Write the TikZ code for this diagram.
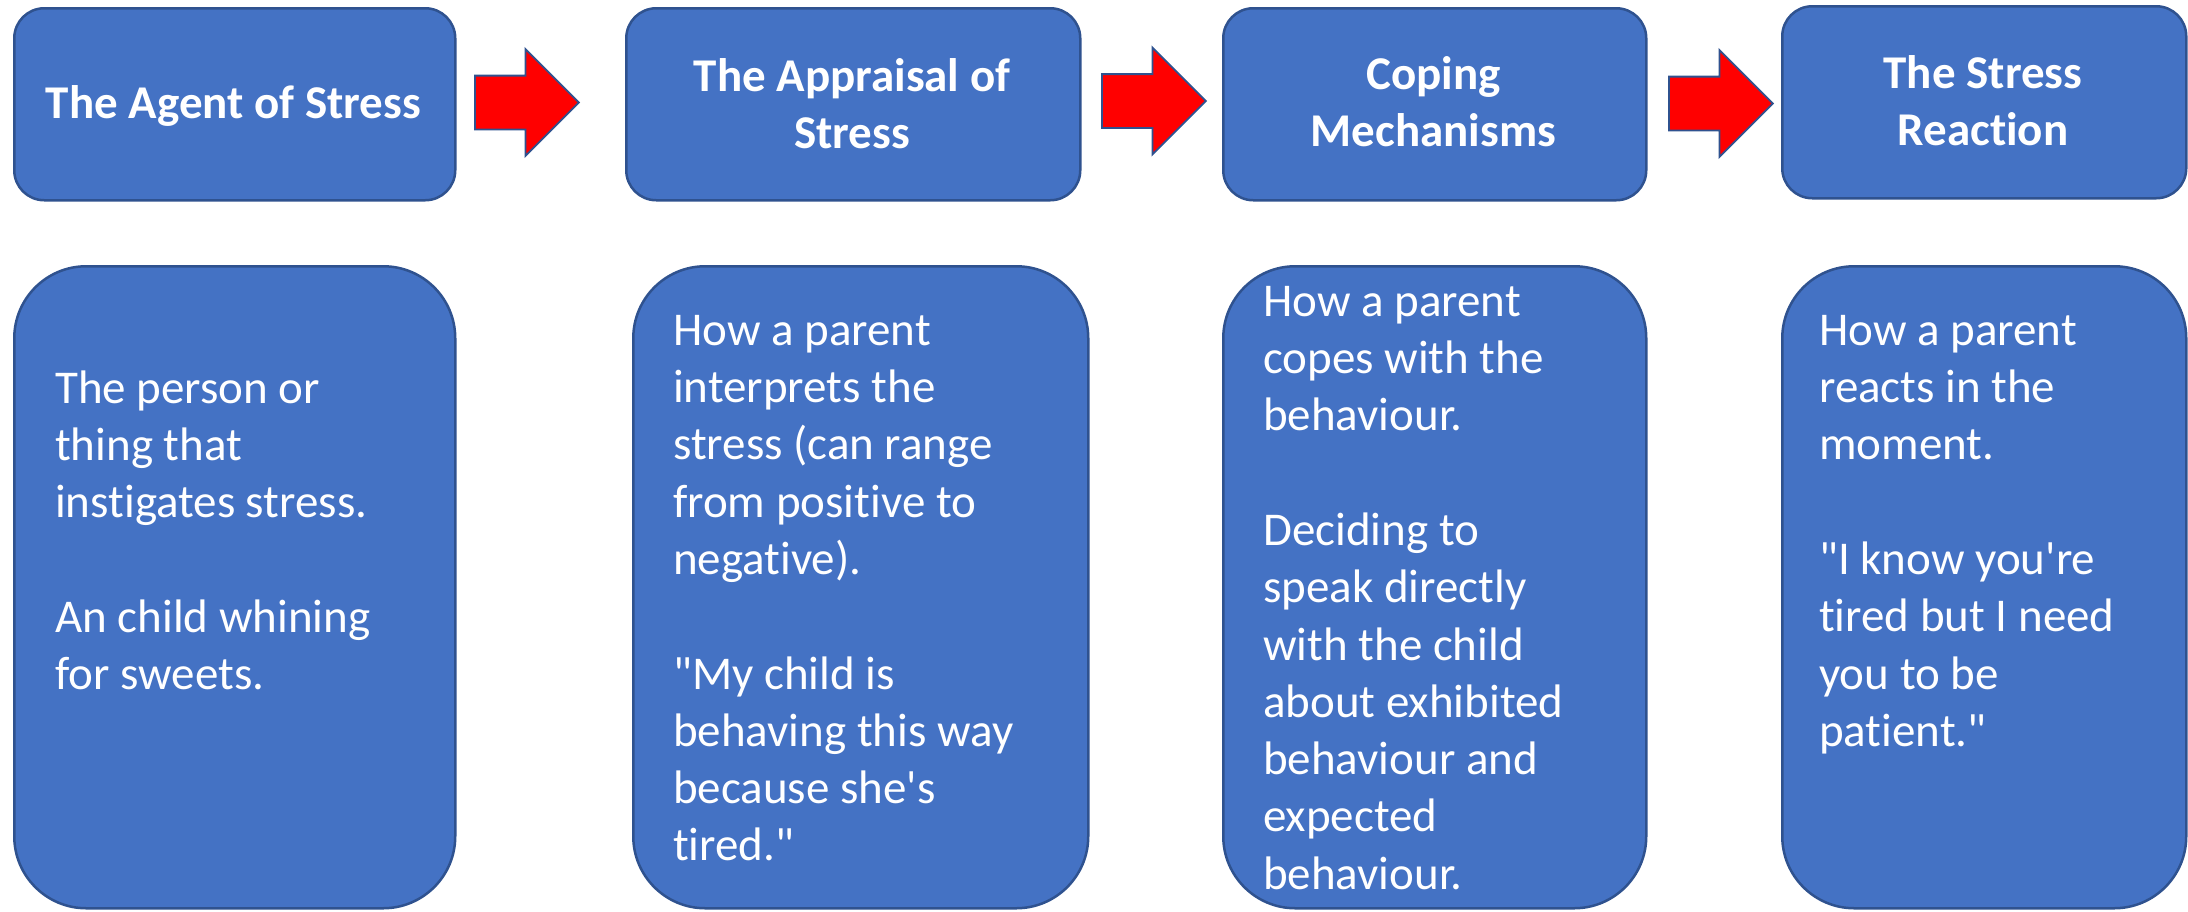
\documentclass[tikz,border=0pt]{standalone}
\usepackage{fontspec}
\setmainfont{Carlito}[Ligatures={NoCommon,TeXOff}]
\usetikzlibrary{shapes.arrows}
\definecolor{boxblue}{HTML}{4472C4}
\definecolor{edgeblue}{HTML}{2F528F}
\definecolor{arrowred}{HTML}{FF0000}
\begin{document}
\begin{tikzpicture}[x=1pt,y=-1pt,
  headbox/.style={draw=edgeblue, fill=boxblue, line width=2.5pt,
    rounded corners=30pt, anchor=north west, inner sep=0pt,
    minimum width=#1, minimum height=192pt},
  bodybox/.style={draw=edgeblue, fill=boxblue, line width=2.5pt,
    rounded corners=72pt, anchor=north west, inner sep=0pt,
    minimum width=#1, minimum height=642pt},
  headtext/.style={anchor=north, inner sep=0pt, align=center, text=white,
    font=\fontsize{47}{57.3}\selectfont\bfseries},
  bodytext/.style={anchor=north west, inner sep=0pt, align=left, text=white,
    font=\fontsize{47}{57.3}\selectfont},
  flowarrow/.style={single arrow, draw=edgeblue, fill=arrowred, line width=1.8pt,
    anchor=tail, inner xsep=0pt, inner ysep=26pt, single arrow tip angle=90,
    single arrow head extend=26.5pt, minimum height=104pt, minimum width=105pt}
]
\useasboundingbox (0,0) rectangle (2188,911);
\newcommand{\firstline}{\rule{0pt}{40pt}}

% stage headers
\node[headbox=441pt] (h1) at (13,7) {};
\node[headbox=454pt] (h2) at (625,7) {};
\node[headbox=423pt] (h3) at (1222,7) {};
\node[headbox=404pt] (h4) at (1781,5) {};

\node[headtext] (h1t) at (233.5,78) {\firstline The Agent of Stress};
\node[headtext] (h2t) at (852,51) {\firstline The Appraisal of\\Stress};
\node[headtext] (h3t) at (1433.5,49) {\firstline Coping\\Mechanisms};
\node[headtext] (h4t) at (1983,48) {\firstline The Stress\\Reaction};

% arrows between the stages
\node[flowarrow] (a1) at (474,102.5) {};
\node[flowarrow] (a2) at (1101,101) {};
\node[flowarrow] (a3) at (1668,103.5) {};

% descriptions
\node[bodybox=441pt] (b1) at (13,265) {};
\node[bodybox=455pt] (b2) at (632,265) {};
\node[bodybox=423pt] (b3) at (1222,265) {};
\node[bodybox=404pt] (b4) at (1781,265) {};

\node[bodytext] (b1t) at (55,363) {\firstline The person or\\thing that\\instigates stress.\\[57.3pt]An child whining\\for sweets.};
\node[bodytext] (b2t) at (673,305) {\firstline How a parent\\interprets the\\stress (can range\\from positive to\\negative).\\[57.3pt]"My child is\\behaving this way\\because she's\\tired."};
\node[bodytext] (b3t) at (1263,276) {\firstline How a parent\\copes with the\\behaviour.\\[57.3pt]Deciding to\\speak directly\\with the child\\about exhibited\\behaviour and\\expected\\behaviour.};
\node[bodytext] (b4t) at (1819,305) {\firstline How a parent\\reacts in the\\moment.\\[57.3pt]"I know you're\\tired but I need\\you to be\\patient."};
\end{tikzpicture}
\end{document}
